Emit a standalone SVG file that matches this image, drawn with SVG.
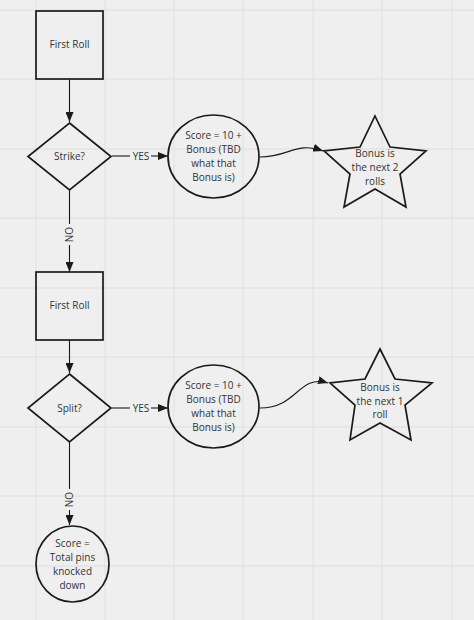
<svg xmlns="http://www.w3.org/2000/svg" width="474" height="620" viewBox="0 0 474 620">
<defs>
<style>
.grid line{stroke:#e3e3e3;stroke-width:1.3}
.shape{fill:none;stroke:#1a1a1a;stroke-width:1.7}
.conn{fill:none;stroke:#1a1a1a;stroke-width:1.1}
text{font-family:"Open Sans","Noto Sans","DejaVu Sans",sans-serif;font-size:10px;fill:#333;text-anchor:middle}
</style>
<marker id="arr" viewBox="0 0 10 8" refX="10" refY="4" markerWidth="10" markerHeight="8" markerUnits="userSpaceOnUse" orient="auto">
<path d="M0,0 L10,4 L0,8 Z" fill="#1a1a1a"/>
</marker>
</defs>
<rect width="474" height="620" fill="#efefef"/>
<g class="grid">
<line x1="36" y1="0" x2="36" y2="620"/>
<line x1="105" y1="0" x2="105" y2="620"/>
<line x1="174" y1="0" x2="174" y2="620"/>
<line x1="243" y1="0" x2="243" y2="620"/>
<line x1="313" y1="0" x2="313" y2="620"/>
<line x1="382" y1="0" x2="382" y2="620"/>
<line x1="452" y1="0" x2="452" y2="620"/>
<line x1="0" y1="10" x2="474" y2="10"/>
<line x1="0" y1="79" x2="474" y2="79"/>
<line x1="0" y1="149" x2="474" y2="149"/>
<line x1="0" y1="218" x2="474" y2="218"/>
<line x1="0" y1="288" x2="474" y2="288"/>
<line x1="0" y1="357" x2="474" y2="357"/>
<line x1="0" y1="427" x2="474" y2="427"/>
<line x1="0" y1="496" x2="474" y2="496"/>
<line x1="0" y1="566" x2="474" y2="566"/>
</g>
<g id="connectors">
<line class="conn" x1="69.5" y1="79" x2="69.5" y2="122" marker-end="url(#arr)"/>
<line class="conn" x1="112" y1="156" x2="130" y2="156"/>
<line class="conn" x1="151" y1="156" x2="168" y2="156" marker-end="url(#arr)"/>
<text x="141" y="159.5">YES</text>
<path class="conn" d="M260,157 C290,157 295,141 323,151" marker-end="url(#arr)"/>
<line class="conn" x1="69.5" y1="190" x2="69.5" y2="224"/>
<line class="conn" x1="69.5" y1="245" x2="69.5" y2="272" marker-end="url(#arr)"/>
<text transform="translate(73,234.5) rotate(-90)">NO</text>
<line class="conn" x1="69.5" y1="340" x2="69.5" y2="373" marker-end="url(#arr)"/>
<line class="conn" x1="112" y1="408" x2="130" y2="408"/>
<line class="conn" x1="151" y1="408" x2="168" y2="408" marker-end="url(#arr)"/>
<text x="141" y="411.5">YES</text>
<path class="conn" d="M260,408 C298,408 298,374 328,383" marker-end="url(#arr)"/>
<line class="conn" x1="69.5" y1="442" x2="69.5" y2="489"/>
<line class="conn" x1="69.5" y1="510" x2="69.5" y2="525" marker-end="url(#arr)"/>
<text transform="translate(73,499.5) rotate(-90)">NO</text>
</g>
<g id="first-roll-1">
<rect class="shape" x="36" y="11" width="67" height="68"/>
<text x="69.5" y="48">First Roll</text>
</g>
<g id="strike">
<polygon class="shape" points="69.5,123 111,156.5 69.5,190 28,156.5"/>
<text x="69.5" y="160">Strike?</text>
</g>
<g id="score-strike">
<ellipse class="shape" cx="213.5" cy="156.5" rx="45.5" ry="41.5"/>
<text x="213.5" y="138.5">Score = 10 +</text>
<text x="213.5" y="152.5">Bonus (TBD</text>
<text x="213.5" y="166.5">what that</text>
<text x="213.5" y="180.5">Bonus is)</text>
</g>
<g id="star-strike">
<polygon class="shape" points="375,116 390,147 426,151 400,174 406,207 375,189 344,207 350,174 324,151 360,147"/>
<text x="375" y="156.5">Bonus is</text>
<text x="375" y="170.5">the next 2</text>
<text x="375" y="184.5">rolls</text>
</g>
<g id="first-roll-2">
<rect class="shape" x="36" y="272" width="67" height="68"/>
<text x="69.5" y="309">First Roll</text>
</g>
<g id="split">
<polygon class="shape" points="69.5,374 111,408 69.5,442 28,408"/>
<text x="69.5" y="411.5">Split?</text>
</g>
<g id="score-split">
<ellipse class="shape" cx="213.5" cy="406.5" rx="45.5" ry="41.5"/>
<text x="213.5" y="388.5">Score = 10 +</text>
<text x="213.5" y="402.5">Bonus (TBD</text>
<text x="213.5" y="416.5">what that</text>
<text x="213.5" y="430.5">Bonus is)</text>
</g>
<g id="star-split">
<polygon class="shape" points="380,349 395,379 432,383 405,405 411,440 380,423 350,440 355,405 330,383 365,379"/>
<text x="380" y="390.5">Bonus is</text>
<text x="380" y="404.5">the next 1</text>
<text x="380" y="418">roll</text>
</g>
<g id="score-total">
<ellipse class="shape" cx="72.5" cy="564" rx="36.5" ry="38"/>
<text x="72.5" y="546.5">Score =</text>
<text x="72.5" y="560.5">Total pins</text>
<text x="72.5" y="574.5">knocked</text>
<text x="72.5" y="588.5">down</text>
</g>
</svg>
